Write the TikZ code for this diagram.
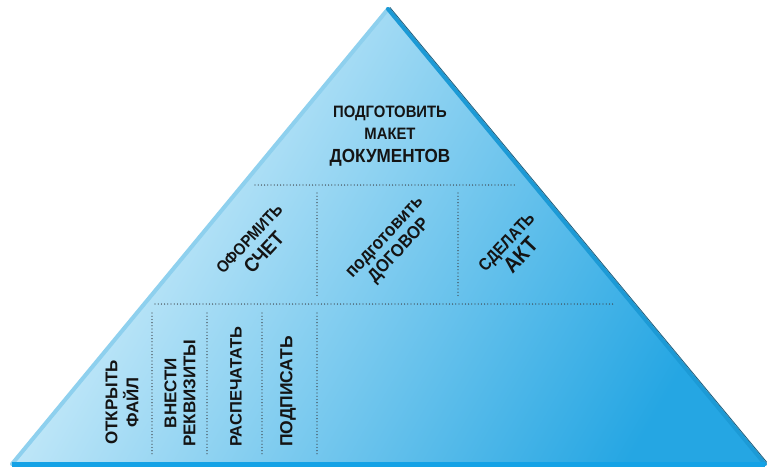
\documentclass[tikz,border=0pt]{standalone}
\usepackage{fontspec}
\setmainfont{Liberation Sans}
\newfontfamily\narrowf[FakeStretch=0.9]{Liberation Sans}
\definecolor{fillA}{HTML}{DDF3FC}
\definecolor{fillM}{HTML}{A6DDF5}
\definecolor{fillB}{HTML}{25A6E3}
\definecolor{edgeL}{HTML}{8ED0EE}
\definecolor{edgeR}{HTML}{1C9AD6}
\definecolor{edgeDark}{HTML}{1B5E7E}
\definecolor{band}{HTML}{14A2E6}
\definecolor{dotc}{HTML}{3A3F44}
\definecolor{txt}{HTML}{141414}
\begin{document}
\begin{tikzpicture}[x=1pt,y=-1pt,
  dotline/.style={draw=dotc, line width=1.3pt, line cap=round, dash pattern=on 0pt off 3.2pt},
  lbl/.style={text=txt, inner sep=0pt, align=center},
  vlbl/.style={lbl, rotate=90, anchor=west},
  dlbl/.style={lbl, rotate=47}]
\useasboundingbox (0,0) rectangle (767,467);
\fill[white] (0,0) rectangle (767,467);
\coordinate (A) at (388,9);
\coordinate (BL) at (12,464);
\coordinate (BR) at (765,464);
\shade[top color=fillA, middle color=fillM, bottom color=fillB, shading angle=60] (A) -- (BR) -- (BL) -- cycle;
\draw[line width=4pt, edgeL, line cap=round] (BL) -- (A);
\draw[line width=4pt, edgeR, line cap=round] (A) -- (BR);
\draw[line width=0.8pt, edgeDark] ([shift={(1.9,-1.6)}]A) -- ([shift={(1.9,-1.6)}]BR);
\draw[line width=5pt, band] (BL) -- (BR);
% dotted grid
\coordinate (h1a) at (255,185); \coordinate (h1b) at (517,185);
\coordinate (v1a) at (317,193); \coordinate (v1b) at (317,297);
\coordinate (v2a) at (458,193); \coordinate (v2b) at (458,297);
\coordinate (h2a) at (155,304); \coordinate (h2b) at (615,304);
\coordinate (w1a) at (152,313); \coordinate (w1b) at (152,454);
\coordinate (w2a) at (207,313); \coordinate (w2b) at (207,454);
\coordinate (w3a) at (262,313); \coordinate (w3b) at (262,454);
\coordinate (w4a) at (317,313); \coordinate (w4b) at (317,454);
\path[dotline] (h1a) -- (h1b);
\path[dotline] (v1a) -- (v1b);
\path[dotline] (v2a) -- (v2b);
\path[dotline] (h2a) -- (h2b);
\path[dotline] (w1a) -- (w1b);
\path[dotline] (w2a) -- (w2b);
\path[dotline] (w3a) -- (w3b);
\path[dotline] (w4a) -- (w4b);
% top
\node[lbl, font=\narrowf\bfseries\fontsize{16.5}{22.5}\selectfont] (top) at (390,136)
  {ПОДГОТОВИТЬ\\МАКЕТ\\{\fontsize{19}{22.5}\selectfont ДОКУМЕНТОВ}};
% middle
\node[dlbl, font=\narrowf\bfseries\fontsize{16.5}{21}\selectfont] (m1) at (257,246)
  {ОФОРМИТЬ\\{\fontsize{20}{21}\selectfont СЧЕТ}};
\node[dlbl, font=\narrowf\bfseries\fontsize{18.5}{19.5}\selectfont] (m2) at (393,245)
  {подготовить\\{\fontsize{18}{19.5}\selectfont ДОГОВОР}};
\node[dlbl, font=\narrowf\bfseries\fontsize{17}{21}\selectfont] (m3) at (514,249)
  {СДЕЛАТЬ\\{\fontsize{22}{21}\selectfont АКТ}};
% bottom
\node[vlbl, font=\bfseries\fontsize{17}{21}\selectfont] (b1) at (122,445) {ОТКРЫТЬ\\ФАЙЛ};
\node[vlbl, font=\bfseries\fontsize{17}{19}\selectfont] (b2) at (180,447) {ВНЕСТИ\\РЕКВИЗИТЫ};
\node[vlbl, font=\bfseries\fontsize{16.5}{20}\selectfont] (b3) at (236,447) {РАСПЕЧАТАТЬ};
\node[vlbl, font=\bfseries\fontsize{17.5}{20}\selectfont] (b4) at (288,447) {ПОДПИСАТЬ};
\end{tikzpicture}
\end{document}
